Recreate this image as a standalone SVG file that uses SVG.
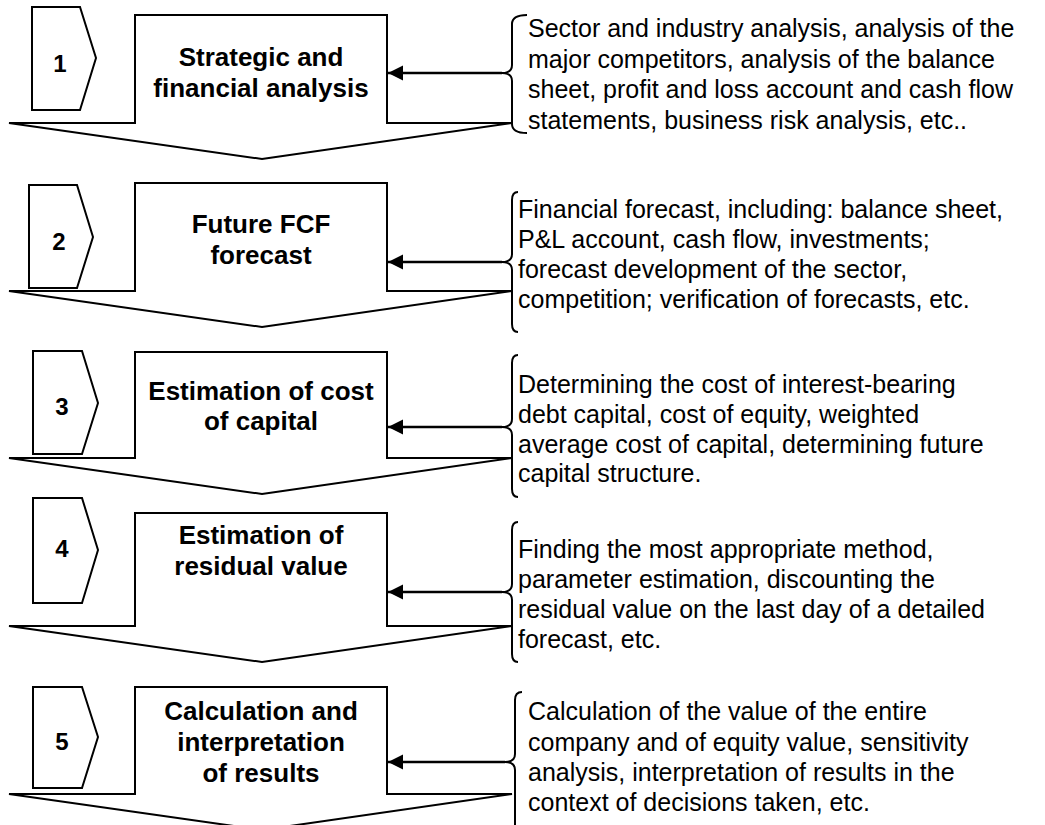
<svg xmlns="http://www.w3.org/2000/svg" width="1045" height="825" viewBox="0 0 1045 825">
  <defs>
    <style>
      .shape { fill: #ffffff; stroke: #000000; stroke-width: 2; stroke-linejoin: miter; }
      .brace { fill: none; stroke: #000000; stroke-width: 2; }
      .link { fill: none; stroke: #000000; stroke-width: 2.5; }
      .num { font-family: "Liberation Sans", Arial, sans-serif; font-weight: bold; font-size: 24px; text-anchor: middle; fill: #000; }
      .title { font-family: "Liberation Sans", Arial, sans-serif; font-weight: bold; font-size: 26px; text-anchor: middle; fill: #000; }
      .desc { font-family: "Liberation Sans", Arial, sans-serif; font-size: 25px; fill: #000; }
    </style>
    <marker id="arrowhead" markerUnits="userSpaceOnUse" markerWidth="16" markerHeight="16" refX="15" refY="7.5" orient="auto">
      <path d="M0,0 L15,7.5 L0,15 Z" fill="#000"/>
    </marker>
  </defs>
  <rect width="1045" height="825" fill="#ffffff"/>

  <!-- Stage 1 -->
  <g id="stage1">
    <path class="shape" d="M9,123 L135,123 L135,15 L387,15 L387,123 L512,123 L262,159 Z"/>
    <path class="shape" d="M32,7 L80,7 L96,58 L80,110 L32,110 Z"/>
    <text class="num" x="60" y="72">1</text>
    <text class="title" x="261" y="66">Strategic and</text>
    <text class="title" x="261" y="97">financial analysis</text>
  </g>
  <g id="note1">
    <path class="brace" d="M527,15 Q512,15 512,24 L512,65 Q512,73 502,73 Q512,73 512,81 L512,124 Q512,133 527,133"/>
    <text class="desc" x="528" y="37">Sector and industry analysis, analysis of the</text>
    <text class="desc" x="528" y="67.5">major competitors, analysis of the balance</text>
    <text class="desc" x="528" y="98">sheet, profit and loss account and cash flow</text>
    <text class="desc" x="528" y="128.5">statements, business risk analysis, etc..</text>
  </g>

  <!-- Stage 2 -->
  <g id="stage2">
    <path class="shape" d="M9,291 L135,291 L135,183 L387,183 L387,291 L512,291 L262,327 Z"/>
    <path class="shape" d="M29,185 L77,185 L93,237 L77,288 L29,288 Z"/>
    <text class="num" x="59" y="250">2</text>
    <text class="title" x="261" y="233">Future FCF</text>
    <text class="title" x="261" y="264">forecast</text>
  </g>
  <g id="note2">
    <path class="brace" d="M518,192 Q512,192 512,200 L512,254 Q512,262 502,262 Q512,262 512,270 L512,324 Q512,332 518,332"/>
    <text class="desc" x="518" y="218">Financial forecast, including: balance sheet,</text>
    <text class="desc" x="518" y="248">P&amp;L account, cash flow, investments;</text>
    <text class="desc" x="518" y="278">forecast development of the sector,</text>
    <text class="desc" x="518" y="308">competition; verification of forecasts, etc.</text>
  </g>

  <!-- Stage 3 -->
  <g id="stage3">
    <path class="shape" d="M9,458 L135,458 L135,352 L387,352 L387,458 L512,458 L262,494 Z"/>
    <path class="shape" d="M33,351 L82,351 L98,403 L82,454 L33,454 Z"/>
    <text class="num" x="62" y="415">3</text>
    <text class="title" x="261" y="400">Estimation of cost</text>
    <text class="title" x="261" y="430">of capital</text>
  </g>
  <g id="note3">
    <path class="brace" d="M518,355 Q512,355 512,363 L512,419 Q512,427 502,427 Q512,427 512,435 L512,489 Q512,497 518,497"/>
    <text class="desc" x="518" y="393">Determining the cost of interest-bearing</text>
    <text class="desc" x="518" y="423">debt capital, cost of equity, weighted</text>
    <text class="desc" x="518" y="453">average cost of capital, determining future</text>
    <text class="desc" x="518" y="482">capital structure.</text>
  </g>

  <!-- Stage 4 -->
  <g id="stage4">
    <path class="shape" d="M9,626 L135,626 L135,513 L387,513 L387,626 L512,626 L262,662 Z"/>
    <path class="shape" d="M33,498 L82,498 L98,550 L82,603 L33,603 Z"/>
    <text class="num" x="62" y="557">4</text>
    <text class="title" x="261" y="544">Estimation of</text>
    <text class="title" x="261" y="575">residual value</text>
  </g>
  <g id="note4">
    <path class="brace" d="M518,522 Q512,522 512,530 L512,584 Q512,592 502,592 Q512,592 512,600 L512,654 Q512,662 518,662"/>
    <text class="desc" x="518" y="558">Finding the most appropriate method,</text>
    <text class="desc" x="518" y="588">parameter estimation, discounting the</text>
    <text class="desc" x="518" y="618">residual value on the last day of a  detailed</text>
    <text class="desc" x="518" y="648">forecast, etc.</text>
  </g>

  <!-- Stage 5 -->
  <g id="stage5">
    <path class="shape" d="M9,794 L135,794 L135,687 L387,687 L387,794 L512,794 L262,830 Z"/>
    <path class="shape" d="M33,687 L82,687 L98,737 L82,788 L33,788 Z"/>
    <text class="num" x="62" y="750">5</text>
    <text class="title" x="261" y="720">Calculation and</text>
    <text class="title" x="261" y="751">interpretation</text>
    <text class="title" x="261" y="782">of results</text>
  </g>
  <g id="note5">
    <path class="brace" d="M522,692 Q515,692 515,700 L515,754 Q515,762 505,762 Q515,762 515,770 L515,840"/>
    <text class="desc" x="528" y="720">Calculation of the value of the entire</text>
    <text class="desc" x="528" y="751">company and of equity value, sensitivity</text>
    <text class="desc" x="528" y="781">analysis, interpretation of results in the</text>
    <text class="desc" x="528" y="811">context of decisions taken, etc.</text>
  </g>

  <!-- Connectors: brace tips to stage boxes -->
  <g id="connectors">
    <line class="link" x1="502" y1="73" x2="388" y2="73" marker-end="url(#arrowhead)"/>
    <line class="link" x1="502" y1="262" x2="388" y2="262" marker-end="url(#arrowhead)"/>
    <line class="link" x1="502" y1="427" x2="388" y2="427" marker-end="url(#arrowhead)"/>
    <line class="link" x1="502" y1="592" x2="388" y2="592" marker-end="url(#arrowhead)"/>
    <line class="link" x1="505" y1="762" x2="388" y2="762" marker-end="url(#arrowhead)"/>
  </g>
</svg>
